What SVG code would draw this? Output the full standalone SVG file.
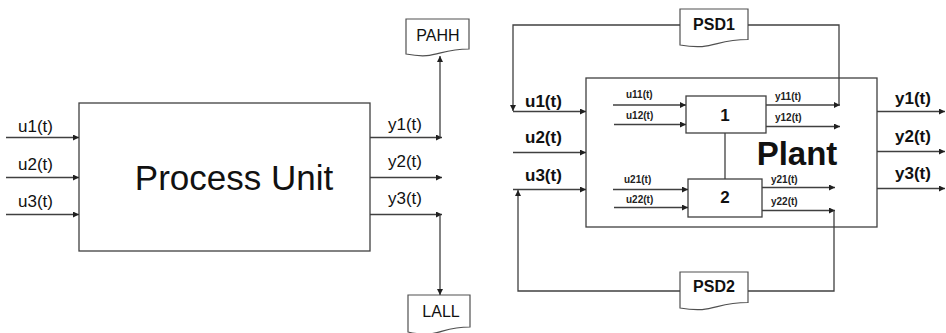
<svg xmlns="http://www.w3.org/2000/svg" width="946" height="333" viewBox="0 0 946 333">
  <style>
    .box { fill: #ffffff; stroke: #404040; stroke-width: 1.3; }
    .doc { fill: #ffffff; stroke: #505050; stroke-width: 1.2; }
    .wire { fill: none; stroke: #404040; stroke-width: 1.3; }
    .arr { marker-end: url(#head); }
    .lbl { font-family: "Liberation Sans", Arial, sans-serif; font-size: 17px; fill: #111; }
    .blbl { font-family: "Liberation Sans", Arial, sans-serif; font-size: 17px; font-weight: bold; fill: #111; }
    .small { font-family: "Liberation Sans", Arial, sans-serif; font-size: 10px; font-weight: bold; fill: #222; }
    .doctxt { font-family: "Liberation Sans", Arial, sans-serif; font-size: 16px; fill: #111; text-anchor: middle; }
    .doctxtb { font-family: "Liberation Sans", Arial, sans-serif; font-size: 16px; font-weight: bold; fill: #111; text-anchor: middle; }
  </style>
  <defs>
    <marker id="head" markerUnits="userSpaceOnUse" markerWidth="7" markerHeight="6" refX="6" refY="3" orient="auto">
      <path d="M0,0 L6,3 L0,6 Z" fill="#202020"/>
    </marker>
  </defs>

  <rect width="946" height="333" fill="#ffffff"/>

  <!-- Left: process unit with alarm documents -->
  <g id="process-unit">
    <rect class="box" x="79" y="103" width="291" height="148"/>
    <text x="234" y="190" font-family="Liberation Sans, Arial, sans-serif" font-size="35" fill="#111" text-anchor="middle">Process Unit</text>
  </g>
  <g id="pahh">
    <path class="doc" d="M406,19 H469 V49 C437.5,49 437.5,60 406,54 Z"/>
    <text class="doctxt" x="438" y="41">PAHH</text>
  </g>
  <g id="lall">
    <path class="doc" d="M408,295 H470 V327 C439,327 439,339 408,332 Z"/>
    <text class="doctxt" x="441" y="317">LALL</text>
  </g>

  <!-- Right: plant with two sub-units and PSD loops -->
  <g id="plant">
    <rect class="box" x="586" y="78" width="291" height="149"/>
    <text x="797" y="165" font-family="Liberation Sans, Arial, sans-serif" font-size="33" font-weight="bold" fill="#111" text-anchor="middle">Plant</text>
  </g>
  <g id="unit-1">
    <rect class="box" x="686" y="96" width="80" height="37"/>
    <text class="blbl" x="725" y="121" text-anchor="middle">1</text>
  </g>
  <g id="unit-2">
    <rect class="box" x="688" y="179" width="74" height="38"/>
    <text class="blbl" x="725" y="203" text-anchor="middle">2</text>
  </g>
  <g id="psd1">
    <path class="doc" d="M680,9 H748 V39.5 C714,39.5 714,51 680,45 Z"/>
    <text class="doctxtb" x="714" y="30">PSD1</text>
  </g>
  <g id="psd2">
    <path class="doc" d="M680,272 H748 V302.5 C714,302.5 714,314 680,308 Z"/>
    <text class="doctxtb" x="714" y="292">PSD2</text>
  </g>

  <g id="connectors">
    <!-- process unit inputs -->
    <line class="wire arr" x1="6" y1="137.5" x2="79" y2="137.5"/>
    <line class="wire arr" x1="6" y1="177.5" x2="79" y2="177.5"/>
    <line class="wire arr" x1="6" y1="214.5" x2="79" y2="214.5"/>
    <!-- process unit outputs -->
    <line class="wire arr" x1="370" y1="137.5" x2="442" y2="137.5"/>
    <line class="wire arr" x1="370" y1="177.5" x2="442" y2="177.5"/>
    <line class="wire arr" x1="370" y1="214.5" x2="442" y2="214.5"/>
    <line class="wire arr" x1="440" y1="137.5" x2="440" y2="56"/>
    <line class="wire arr" x1="440" y1="214.5" x2="440" y2="295"/>

    <!-- plant inputs -->
    <line class="wire arr" x1="513" y1="111.5" x2="586" y2="111.5"/>
    <line class="wire arr" x1="513" y1="152.5" x2="586" y2="152.5"/>
    <line class="wire arr" x1="513" y1="189.5" x2="586" y2="189.5"/>
    <!-- plant outputs -->
    <line class="wire arr" x1="877" y1="111.5" x2="945" y2="111.5"/>
    <line class="wire arr" x1="877" y1="151.5" x2="945" y2="151.5"/>
    <line class="wire arr" x1="877" y1="188.5" x2="945" y2="188.5"/>

    <!-- sub-unit inputs -->
    <line class="wire arr" x1="613" y1="105" x2="686" y2="105"/>
    <line class="wire arr" x1="614" y1="124.5" x2="686" y2="124.5"/>
    <line class="wire arr" x1="613" y1="189.5" x2="688" y2="189.5"/>
    <line class="wire arr" x1="614" y1="207.5" x2="688" y2="207.5"/>
    <!-- sub-unit outputs -->
    <line class="wire arr" x1="766" y1="105" x2="840" y2="105"/>
    <line class="wire arr" x1="766" y1="126.5" x2="840" y2="126.5"/>
    <line class="wire arr" x1="762" y1="187.5" x2="835" y2="187.5"/>
    <line class="wire arr" x1="762" y1="210.5" x2="835" y2="210.5"/>
    <!-- link between sub-units -->
    <line class="wire" x1="725" y1="133" x2="725" y2="179"/>

    <!-- PSD1 loop -->
    <polyline class="wire" points="748,25 839,25 839,105"/>
    <polyline class="wire arr" points="680,25 513,25 513,111"/>
    <!-- PSD2 loop -->
    <polyline class="wire" points="834,210.5 834,291 748,291"/>
    <polyline class="wire arr" points="680,291 518,291 518,190"/>
  </g>

  <!-- signal labels -->
  <g id="labels">
    <text class="lbl" x="18" y="132">u1(t)</text>
    <text class="lbl" x="18" y="170">u2(t)</text>
    <text class="lbl" x="18" y="207">u3(t)</text>
    <text class="lbl" x="388" y="130">y1(t)</text>
    <text class="lbl" x="388" y="167">y2(t)</text>
    <text class="lbl" x="388" y="204">y3(t)</text>

    <text class="blbl" x="525" y="107">u1(t)</text>
    <text class="blbl" x="525" y="143">u2(t)</text>
    <text class="blbl" x="525" y="181">u3(t)</text>
    <text class="blbl" x="895" y="104">y1(t)</text>
    <text class="blbl" x="895" y="142">y2(t)</text>
    <text class="blbl" x="895" y="179">y3(t)</text>

    <text class="small" x="626" y="98">u11(t)</text>
    <text class="small" x="626" y="119">u12(t)</text>
    <text class="small" x="775" y="100">y11(t)</text>
    <text class="small" x="775" y="121">y12(t)</text>
    <text class="small" x="624" y="183">u21(t)</text>
    <text class="small" x="626" y="203">u22(t)</text>
    <text class="small" x="771" y="183">y21(t)</text>
    <text class="small" x="771" y="205">y22(t)</text>
  </g>
</svg>
